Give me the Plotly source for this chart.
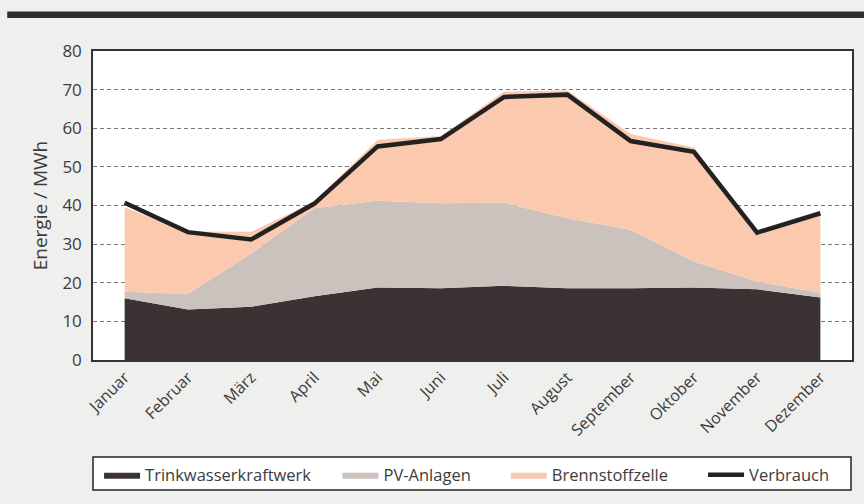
import plotly.graph_objects as go

months = ["Januar", "Februar", "März", "April", "Mai", "Juni", "Juli",
          "August", "September", "Oktober", "November", "Dezember"]
trinkwasser = [16.0, 13.1, 13.8, 16.5, 18.8, 18.6, 19.2, 18.6, 18.6, 18.8, 18.3, 16.2]
pv_anlagen = [1.7, 4.0, 13.8, 22.8, 22.4, 22.0, 21.5, 18.1, 15.1, 6.7, 2.0, 1.2]
brennstoffzelle = [21.8, 16.2, 5.6, 1.7, 15.8, 17.4, 28.8, 33.1, 24.8, 29.5, 13.2, 20.1]
verbrauch = [40.7, 33.1, 31.2, 40.5, 55.3, 57.2, 68.1, 68.7, 56.7, 53.9, 33.0, 38.0]
y_ticks = [0, 10, 20, 30, 40, 50, 60, 70, 80]

FONT = "Open Sans"
TXT = "#3c3c3c"
NB = "\u00a0"

fig = go.Figure()
for name, vals, col, pad in [("Trinkwasserkraftwerk", trinkwasser, "#3b3333", 5),
                             ("PV-Anlagen", pv_anlagen, "#cbc1bd", 7),
                             ("Brennstoffzelle", brennstoffzelle, "#fbcaae", 7)]:
    fig.add_trace(go.Scatter(x=months, y=vals, name=name + NB * pad, stackgroup="one",
                             mode="lines", line=dict(width=0, color=col),
                             fillcolor=col, hoverinfo="skip"))
fig.add_trace(go.Scatter(x=months, y=verbrauch, name="Verbrauch", mode="lines",
                         line=dict(color="#222222", width=4.5)))

fig.update_layout(
    width=864, height=504,
    margin=dict(l=93, r=12, t=51, b=144, autoexpand=False),
    paper_bgcolor="#efefed", plot_bgcolor="#ffffff",
    font=dict(family=FONT, color=TXT, size=16),
    showlegend=True,
    legend=dict(orientation="h", x=0.008, xanchor="left", y=-0.316, yanchor="top",
                bgcolor="rgba(0,0,0,0)", borderwidth=0,
                font=dict(family=FONT, size=16.5, color=TXT),
                itemwidth=36, traceorder="normal"),
    shapes=[dict(type="rect", xref="paper", yref="paper",
                 x0=-0.113, x1=1.02, y0=1.107, y1=1.128,
                 fillcolor="#2f2f2f", line=dict(width=0), layer="above"),
            dict(type="rect", xref="paper", yref="paper",
                 x0=0, x1=0.9987, y0=-0.314, y1=-0.421,
                 fillcolor="#ffffff", line=dict(color="#222222", width=1.5),
                 layer="below")],
)
fig.update_xaxes(type="category", range=[-0.5, 11.5], tickangle=-45,
                 showgrid=False, showline=True, linecolor="#333333", linewidth=1.5,
                 mirror=True, ticks="", tickfont=dict(size=16, color=TXT))
fig.update_yaxes(range=[0, 80], tickvals=y_ticks, showgrid=True,
                 gridcolor="#777777", griddash="4px,3px", gridwidth=1,
                 zeroline=False, showline=True, linecolor="#333333", linewidth=1.5,
                 mirror=True, ticks="", ticklabelstandoff=6,
                 tickfont=dict(size=17, color=TXT),
                 title=dict(text="Energie / MWh", font=dict(size=19, color=TXT), standoff=10))

fig.write_html("out.html", config={"displayModeBar": False},
               post_script="document.body.style.margin='0';document.body.style.overflow='hidden';")
